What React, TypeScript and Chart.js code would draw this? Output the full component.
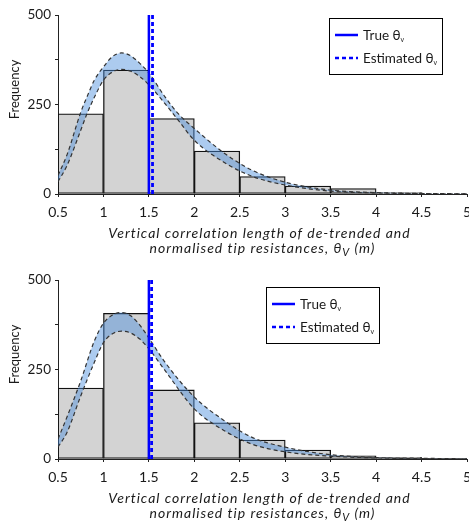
import React, { useEffect, useRef } from "react";
import { Chart, registerables } from "chart.js";

Chart.register(...registerables);

const FONT = "Lato";
const TEXT = "#1a1a1a";

// Histogram bins (centres of 0.5-wide bins) and counts
const binCenters = [0.75, 1.25, 1.75, 2.25, 2.75, 3.25, 3.75, 4.25, 4.75];
const topCounts = [224, 346, 211, 120, 49, 22, 15, 4, 0];
const bottomCounts = [198, 407, 193, 101, 53, 25, 9, 5, 2];

// Fitted-PDF envelope curves (upper and lower bounds), top panel
const topCurveX = [0.5, 0.6, 0.75, 0.82, 0.9, 1.0, 1.1, 1.2, 1.3, 1.4, 1.5, 1.675, 1.82, 2.0, 2.33, 2.63, 3.0, 3.5, 4.0, 4.5, 5.0];
const topUpper = [52, 110, 228, 272, 318, 355, 384, 394, 386, 365, 338, 272, 225, 183, 114, 67, 33, 11, 4, 1.5, 0.5];
const topLower = [34, 80, 178, 225, 270, 318, 341, 348, 343, 328, 305, 253, 207, 150, 88, 50, 25, 8, 3, 1, 0.3];

// Bottom panel envelope curves
const bottomCurveX = [0.5, 0.6, 0.75, 0.9, 1.0, 1.1, 1.2, 1.3, 1.4, 1.5, 1.675, 2.0, 2.33, 2.63, 3.0, 3.5, 4.0, 4.5, 5.0];
const bottomUpper = [56, 118, 218, 330, 379, 402, 409, 400, 374, 338, 271, 173, 107, 61, 33, 12, 4, 2, 0.5];
const bottomLower = [33, 75, 176, 270, 325, 350, 357, 352, 335, 308, 248, 140, 79, 42, 20, 8, 3, 1, 0.3];

// True and estimated vertical correlation lengths
const trueTheta = 1.5;
const topEstimated = 1.54;
const bottomEstimated = 1.53;

// Axis ranges / ticks
const xMin = 0.5;
const xMax = 5;
const xStep = 0.5;
const yMax = 500;
const yStep = 125;
const yLabelled = [0, 250, 500];

const legendLabels = ["True θ", "Estimated θ"];
const xTitle1 = "Vertical correlation length of de-trended and";
const xTitle2a = "normalised tip resistances, θ";
const xTitle2sub = "V";
const xTitle2b = " (m)";
const yTitle = "Frequency";

type Part = { t: string; sub?: boolean; subSize?: number; subDrop?: number };

function drawParts(
  ctx: CanvasRenderingContext2D,
  parts: Part[],
  x: number,
  y: number,
  align: "left" | "center",
  size: number,
  style: string,
  spacing: number
) {
  const c: any = ctx;
  const fontFor = (p: Part) =>
    `${style} ${p.sub ? p.subSize ?? Math.round(size * 0.6) : size}px ${FONT}`;
  c.letterSpacing = `${spacing}px`;
  let total = 0;
  const widths = parts.map((p) => {
    ctx.font = fontFor(p);
    const w = ctx.measureText(p.t).width;
    total += w;
    return w;
  });
  let cx = align === "center" ? x - total / 2 : x;
  ctx.textAlign = "left";
  ctx.textBaseline = "alphabetic";
  parts.forEach((p, i) => {
    ctx.font = fontFor(p);
    ctx.fillText(p.t, cx, p.sub ? y + (p.subDrop ?? 2) : y);
    cx += widths[i];
  });
  c.letterSpacing = "0px";
}

function makeDecor(legendLeft: number, legendTop: number) {
  return {
    id: "decor",
    afterDatasetsDraw(chart: any) {
      const ctx: CanvasRenderingContext2D = chart.ctx;
      ctx.save();
      // legend box
      const w = 113;
      const h = 56;
      ctx.fillStyle = "#ffffff";
      ctx.fillRect(legendLeft, legendTop, w, h);
      ctx.strokeStyle = "#000000";
      ctx.lineWidth = 1;
      ctx.strokeRect(legendLeft + 0.5, legendTop + 0.5, w, h);
      const rows = [legendTop + 17, legendTop + 40];
      rows.forEach((ry, i) => {
        ctx.beginPath();
        ctx.strokeStyle = "#0000ff";
        ctx.lineWidth = 2.5;
        ctx.setLineDash(i === 0 ? [] : [4, 3]);
        ctx.moveTo(legendLeft + 6, ry);
        ctx.lineTo(legendLeft + 29, ry);
        ctx.stroke();
        ctx.setLineDash([]);
        ctx.fillStyle = TEXT;
        drawParts(
          ctx,
          [{ t: legendLabels[i] }, { t: "v", sub: true, subSize: 7, subDrop: 2 }],
          legendLeft + 34,
          ry + 4.5,
          "left",
          13.5,
          "normal",
          0
        );
      });
      ctx.restore();
    },
    afterDraw(chart: any) {
      const ctx: CanvasRenderingContext2D = chart.ctx;
      const a = chart.chartArea;
      ctx.save();
      ctx.fillStyle = TEXT;
      const cx = (a.left + a.right) / 2;
      drawParts(ctx, [{ t: xTitle1 }], cx - 3, a.bottom + 43.5, "center", 14, "italic", 1);
      drawParts(
        ctx,
        [
          { t: xTitle2a },
          { t: xTitle2sub, sub: true, subSize: 11, subDrop: 3 },
          { t: xTitle2b },
        ],
        cx,
        a.bottom + 58.5,
        "center",
        14,
        "italic",
        1
      );
      // y title
      ctx.translate(15, (a.top + a.bottom) / 2 - 15);
      ctx.rotate(-Math.PI / 2);
      ctx.font = `normal 13px ${FONT}`;
      ctx.textAlign = "center";
      ctx.textBaseline = "middle";
      ctx.fillText(yTitle, 0, 0);
      ctx.restore();
    },
  };
}

function makeConfig(
  counts: number[],
  curveX: number[],
  upper: number[],
  lower: number[],
  est: number,
  legendLeft: number,
  legendTop: number
): any {
  const curveStyle = {
    type: "line",
    borderColor: "#333333",
    borderWidth: 1.2,
    borderDash: [4, 3],
    pointRadius: 0,
    tension: 0.4,
    cubicInterpolationMode: "monotone",
  };
  return {
    type: "bar",
    data: {
      datasets: [
        {
          type: "bar",
          data: binCenters.map((x, i) => ({ x, y: counts[i] })),
          backgroundColor: "#d3d3d3",
          borderColor: "#111111",
          borderWidth: 1.3,
          borderSkipped: false,
          barPercentage: 1,
          categoryPercentage: 1,
          order: 10,
        },
        {
          ...curveStyle,
          data: curveX.map((x, i) => ({ x, y: upper[i] })),
          fill: "+1",
          backgroundColor: "rgba(70,140,220,0.45)",
          order: 5,
        },
        {
          ...curveStyle,
          data: curveX.map((x, i) => ({ x, y: lower[i] })),
          fill: false,
          order: 4,
        },
        {
          type: "line",
          data: [
            { x: trueTheta, y: 0 },
            { x: trueTheta, y: yMax },
          ],
          borderColor: "#0000ff",
          borderWidth: 2.5,
          pointRadius: 0,
          fill: false,
          order: 2,
        },
        {
          type: "line",
          data: [
            { x: est, y: 0 },
            { x: est, y: yMax },
          ],
          borderColor: "#0000ff",
          borderWidth: 2.8,
          borderDash: [4, 3],
          pointRadius: 0,
          fill: false,
          order: 1,
        },
      ],
    },
    options: {
      responsive: false,
      animation: false,
      devicePixelRatio: 1,
      layout: { padding: { top: 15, right: 2, bottom: 0, left: 0 } },
      plugins: {
        legend: { display: false },
        tooltip: { enabled: false },
        title: { display: false },
      },
      scales: {
        x: {
          type: "linear",
          min: xMin,
          max: xMax,
          offset: false,
          grid: {
            display: true,
            drawOnChartArea: false,
            drawTicks: true,
            tickLength: 3,
            color: "#222222",
            offset: false,
          },
          border: { display: true, color: "#222222", width: 1 },
          ticks: {
            stepSize: xStep,
            autoSkip: false,
            maxRotation: 0,
            padding: 7,
            color: TEXT,
            font: { family: FONT, size: 14 },
            callback: (v: number) => String(Math.round(v * 10) / 10),
          },
          afterFit: (axis: any) => {
            axis.height = 71;
            axis.paddingLeft = 0;
            axis.paddingRight = 0;
          },
        },
        y: {
          type: "linear",
          min: 0,
          max: yMax,
          grid: {
            display: true,
            drawOnChartArea: false,
            drawTicks: true,
            tickLength: 3,
            color: "#222222",
          },
          border: { display: true, color: "#222222", width: 1 },
          ticks: {
            stepSize: yStep,
            autoSkip: false,
            padding: 4,
            color: TEXT,
            font: { family: FONT, size: 13.5 },
            callback: (v: number) => (yLabelled.includes(v) ? String(v) : ""),
          },
          afterFit: (axis: any) => {
            axis.width = 58;
            axis.paddingTop = 0;
            axis.paddingBottom = 0;
          },
        },
      },
    },
    plugins: [makeDecor(legendLeft, legendTop)],
  };
}

function Panel(props: {
  counts: number[];
  curveX: number[];
  upper: number[];
  lower: number[];
  est: number;
  legendLeft: number;
  legendTop: number;
}) {
  const ref = useRef<HTMLCanvasElement>(null);
  useEffect(() => {
    if (!ref.current) return;
    const chart = new Chart(
      ref.current,
      makeConfig(
        props.counts,
        props.curveX,
        props.upper,
        props.lower,
        props.est,
        props.legendLeft,
        props.legendTop
      )
    );
    return () => chart.destroy();
  }, []);
  return <canvas ref={ref} width={469} height={265} style={{ display: "block" }} />;
}

export default function App() {
  return (
    <div
      style={{
        position: "absolute",
        left: 0,
        top: 0,
        width: 469,
        height: 530,
        background: "#ffffff",
      }}
    >
      <Panel
        counts={topCounts}
        curveX={topCurveX}
        upper={topUpper}
        lower={topLower}
        est={topEstimated}
        legendLeft={329}
        legendTop={18}
      />
      <Panel
        counts={bottomCounts}
        curveX={bottomCurveX}
        upper={bottomUpper}
        lower={bottomLower}
        est={bottomEstimated}
        legendLeft={266}
        legendTop={22}
      />
    </div>
  );
}
